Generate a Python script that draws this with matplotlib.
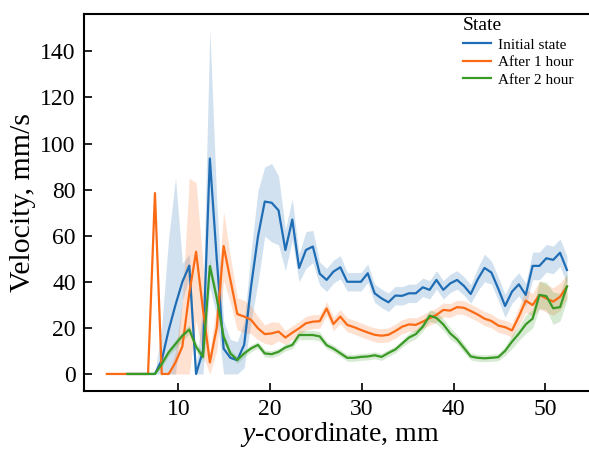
import numpy as np
import matplotlib
matplotlib.use("Agg")
import matplotlib.pyplot as plt

nan = np.nan

# y-coordinate sampling positions, mm
y_coord = [2.22, 2.97, 3.72, 4.46, 5.21, 5.96, 6.71, 7.46, 8.20, 8.95,
           9.70, 10.45, 11.20, 11.94, 12.69, 13.44, 14.19, 14.94, 15.68, 16.43,
           17.18, 17.93, 18.68, 19.42, 20.17, 20.92, 21.67, 22.42, 23.16, 23.91,
           24.66, 25.41, 26.16, 26.90, 27.65, 28.40, 29.15, 29.90, 30.64, 31.39,
           32.14, 32.89, 33.64, 34.38, 35.13, 35.88, 36.63, 37.38, 38.12, 38.87,
           39.62, 40.37, 41.12, 41.86, 42.61, 43.36, 44.11, 44.86, 45.60, 46.35,
           47.10, 47.85, 48.60, 49.34, 50.09, 50.84, 51.59, 52.34]

# mean velocity, mm/s
initial_mean = [nan, nan, nan, 0, 0, 0, 0, 0, 6, 19,
                30, 40, 47, 0, 10, 93.5, 50, 11, 7, 6,
                12.7, 38, 59.6, 74.8, 74.3, 71, 53.8, 67, 46, 53.8,
                55.3, 43.5, 40.8, 44.4, 46.3, 40, 40, 40, 43.7, 35,
                32.8, 31.1, 34, 33.9, 35, 35, 37.6, 36.5, 40.8, 36.5,
                39.3, 40.8, 38.2, 34.7, 41, 46, 44, 37, 29.5, 35.7,
                38.9, 34.3, 46.9, 46.9, 50.2, 49.5, 52.6, 45.1]
hour1_mean = [0, 0, 0, 0, 0, 0, 0, 78.5, 0, 0,
              5, 12, 35, 53, 28, 5, 20, 55.5, 40.8, 26,
              24.9, 23.5, 19.8, 17.3, 17.6, 18.4, 15.8, 17.9, 19.8, 22,
              22.7, 22.9, 28.4, 21.7, 24.9, 21.3, 20.3, 19.1, 18, 17,
              16.6, 17, 18.6, 20.5, 21.5, 21.3, 22.7, 24.2, 25.6, 27.8,
              27.5, 29, 28.7, 27.3, 25.8, 24, 23, 21, 20.3, 18.9,
              24.9, 31.8, 29.9, 34.3, 32.8, 31.4, 33.5, 37.9]
hour2_mean = [nan, nan, nan, 0, 0, 0, 0, 0, 4.3, 9.4,
              13, 16.6, 19.3, 11.8, 7.4, 46.8, 33, 16.1, 8.9, 6.1,
              8.9, 11.1, 12.6, 8.9, 8.6, 9.6, 11.5, 12.6, 16.9, 16.9,
              16.9, 16.3, 12.5, 11, 9, 7, 7, 7.4, 7.6, 8.1,
              7.4, 9.1, 10.6, 13.2, 15.8, 17.3, 20.5, 25.3, 24.3, 21.5,
              17.6, 15, 11.3, 7.6, 7, 6.8, 7, 7.3, 10, 14,
              17.5, 21.5, 24, 34.3, 33.8, 28.5, 29, 38]

# confidence-interval half widths, mm/s
initial_ci = [0, 0, 0, 0, 0, 0, 0, 0, 15, 40,
              55, 8, 5, 3, 20, 56, 25, 12, 8, 8,
              10, 15, 20, 15, 17, 15, 9, 9, 6, 8,
              7, 5, 5, 5, 5, 4, 4, 4, 4, 4,
              4, 4, 4, 4, 4, 4, 4, 4, 4, 4,
              4, 4, 4, 4, 5, 6, 5, 5, 5, 5,
              5, 5, 6, 6, 6, 6, 6, 6]
hour1_ci = [0, 0, 0, 0, 0, 0, 0, 0.5, 0, 0,
            5, 20, 50, 30, 20, 5, 10, 15, 10, 7,
            7, 6, 5, 4, 5, 4, 3, 3, 3, 3,
            3, 3, 3, 3, 3, 3, 3, 3, 3, 3,
            3, 3, 3, 3, 3, 3, 3, 3, 3, 3,
            3, 3, 3, 3, 3, 3, 3, 3, 3, 3,
            4, 5, 5, 6, 6, 6, 6, 5]
hour2_ci = [0, 0, 0, 0, 0, 0, 0, 0, 1.5, 1.5,
            2, 2, 2, 2, 2, 3, 3, 2, 1.5, 1.5,
            1.5, 1.5, 1.5, 1.5, 1.5, 1.5, 1.5, 1.5, 2, 2,
            2, 2, 1.5, 1.5, 1.5, 1.5, 1.5, 1.5, 1.5, 1.5,
            1.5, 1.5, 1.5, 1.5, 2, 2, 2, 2.5, 2.5, 2.5,
            2.5, 2, 2, 1.5, 1.5, 1.5, 1.5, 1.5, 2, 3,
            3, 4, 4, 6, 6, 7, 6, 6]

series = [
    ("Initial state", initial_mean, initial_ci, "#1f6db4"),
    ("After 1 hour", hour1_mean, hour1_ci, "#fb6a14"),
    ("After 2 hour", hour2_mean, hour2_ci, "#3a9a26"),
]

plt.rcParams["font.family"] = ["Liberation Serif", "DejaVu Serif"]
plt.rcParams["mathtext.fontset"] = "custom"
plt.rcParams["mathtext.rm"] = "Liberation Serif"
plt.rcParams["mathtext.it"] = "Liberation Serif:italic"

fig = plt.figure(figsize=(5.89, 4.51), dpi=100)
ax = fig.add_axes([0.1426, 0.133, 0.87, 0.836])

x = np.array(y_coord)
for label, mean, ci, color in series:
    m = np.array(mean, dtype=float)
    c = np.array(ci, dtype=float)
    lo = np.clip(m - c, 0, None)
    hi = m + c
    ax.fill_between(x, lo, hi, color=color, alpha=0.2, linewidth=0)
    ax.plot(x, m, color=color, linewidth=1.6, label=label)

ax.set_xlim(-0.27, 55.55)
ax.set_ylim(-7.4, 156.2)
ax.set_xticks([10, 20, 30, 40, 50])
ax.set_yticks([0, 20, 40, 60, 80, 100, 120, 140])
ax.tick_params(direction="in", length=6, width=1.2, labelsize=17, pad=6)
for s in ax.spines.values():
    s.set_linewidth(1.5)
ax.spines["right"].set_visible(False)

ax.set_xlabel(r"$y$-coordinate, mm", fontsize=20, labelpad=0)
ax.set_ylabel("Velocity, mm/s", fontsize=21.5, labelpad=3)

leg = ax.legend(title="State", loc="upper left",
                bbox_to_anchor=(463 / 589, 1 - 17 / 451),
                bbox_transform=fig.transFigure, frameon=False,
                fontsize=11, title_fontsize=14, borderpad=0,
                borderaxespad=0, handlelength=1.8, handletextpad=0.5,
                labelspacing=0.25, alignment="left")

fig.savefig("out.png", dpi=100)
